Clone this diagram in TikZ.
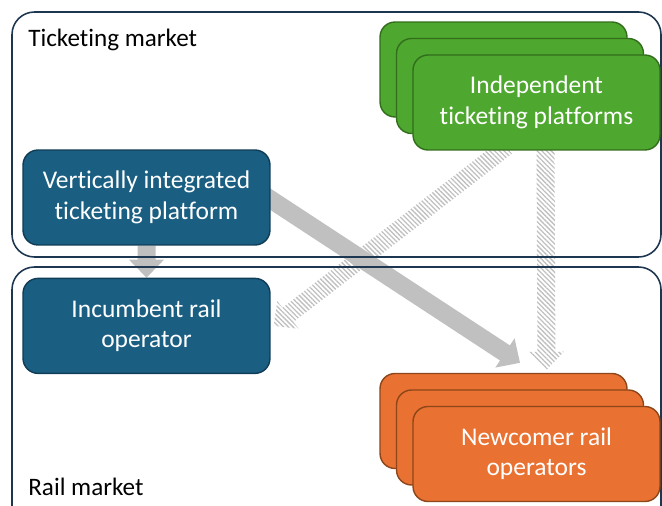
\documentclass[tikz,border=0pt]{standalone}
\usepackage{fontspec}
\setmainfont{Carlito}[Ligatures=NoCommon]
\usetikzlibrary{positioning,calc,backgrounds,patterns.meta}

\definecolor{navyline}{RGB}{30,55,80}
\definecolor{vifill}{RGB}{26,94,130}
\definecolor{vidraw}{RGB}{16,60,86}
\definecolor{indfill}{RGB}{78,167,46}
\definecolor{inddraw}{RGB}{50,110,28}
\definecolor{nrofill}{RGB}{233,113,50}
\definecolor{nrodraw}{RGB}{140,70,25}
\definecolor{flowgray}{RGB}{192,192,192}

\tikzset{
  firm/.style={rectangle, rounded corners=0.3cm, line width=0.8pt,
    minimum width=4.94cm, minimum height=1.9cm, align=center,
    text=white, font=\fontsize{14.5}{17.3}\selectfont},
  incumbent/.style={firm, fill=vifill, draw=vidraw},
  independent/.style={firm, fill=indfill, draw=inddraw},
  newcomer/.style={firm, fill=nrofill, draw=nrodraw},
  market/.style={draw=navyline, line width=0.9pt, rounded corners=0.45cm},
  marketlabel/.style={anchor=west, inner sep=0pt, font=\fontsize{14.3}{17}\selectfont},
  solidflow/.style={fill=flowgray},
  hatchflow/.style={pattern={Lines[angle=-45,distance=1.9pt,line width=0.75pt]},
    pattern color=flowgray},
}

%% block arrow: shaft 18px wide, head 34px wide and 17px long
\newcommand{\flowarrow}[3][]{%
  \coordinate (fa-s) at #2;
  \coordinate (fa-e) at #3;
  \coordinate (fa-b) at ($(fa-e)!0.36cm!(fa-s)$);
  \path[#1] ($(fa-s)!0.18cm!90:(fa-e)$) -- ($(fa-b)!0.18cm!90:(fa-e)$)
    -- ($(fa-b)!0.35cm!90:(fa-e)$) -- (fa-e)
    -- ($(fa-b)!0.35cm!-90:(fa-e)$) -- ($(fa-b)!0.18cm!-90:(fa-e)$)
    -- ($(fa-s)!0.18cm!-90:(fa-e)$) -- cycle;
}

\begin{document}
\begin{tikzpicture}[x=0.02cm, y=-0.02cm]
  \useasboundingbox (0,0) rectangle (662,506);

  %% market labels
  \node[marketlabel] (tmlabel) at (28,40) {Ticketing market};
  \node[marketlabel] (rmlabel) at (28,487) {Rail market};

  %% incumbent side
  \node[incumbent] (vitp) at (146.5,197.5) {Vertically integrated\\ticketing platform};
  \node[incumbent, below=0.64cm of vitp] (inc) {Incumbent rail\\operator};

  %% stacks of independent platforms and newcomers
  \node[independent] (ind3) at (503.5,69.5) {};
  \node[independent] (ind2) at ([shift={(16.5,16.5)}]ind3.center) {};
  \node[independent] (ind1) at ([shift={(16.5,16.5)}]ind2.center) {Independent\\ticketing platforms};

  \node[newcomer] (nro3) at (503.5,421) {};
  \node[newcomer] (nro2) at ([shift={(16.5,16.5)}]nro3.center) {};
  \node[newcomer] (nro1) at ([shift={(16.5,16.5)}]nro2.center) {Newcomer rail\\operators};

  \begin{scope}[on background layer]
    %% flows
    \flowarrow[solidflow]{(vitp.south)}{(inc.north)}
    \flowarrow[solidflow]{($(vitp.east)+(-6,-2)$)}{($(nro3.north)+(16.5,-10)$)}
    \flowarrow[hatchflow]{($(ind1.south)+(-30,-4)$)}{($(inc.east)+(3,0)$)}
    \flowarrow[hatchflow]{($(ind1.south)+(9,-4)$)}{($(nro3.north)+(43,-3)$)}

    %% the two markets
    \draw[market] (12,12) rectangle (661,257);
    \draw[market] (12,267) rectangle (661,540);
  \end{scope}
\end{tikzpicture}
\end{document}
